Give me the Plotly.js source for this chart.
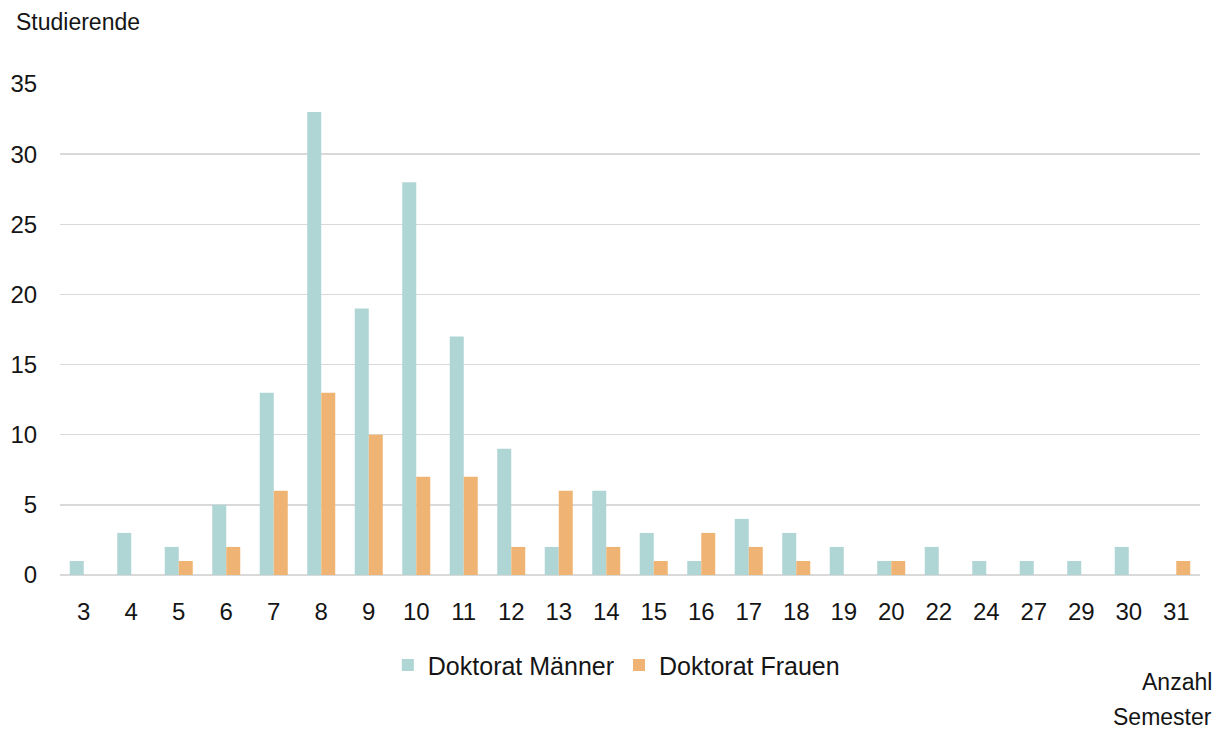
<!DOCTYPE html>
<html>
<head>
<meta charset="utf-8">
<script src="https://cdn.plot.ly/plotly-3.0.1.min.js"></script>
<style>html,body{margin:0;padding:0;background:#fff;}#chart{width:1221px;height:729px;}</style>
</head>
<body>
<div id="chart"></div>
<script>
const semester = ["3","4","5","6","7","8","9","10","11","12","13","14","15","16","17","18","19","20","22","24","27","29","30","31"];
const maenner = [1,3,2,5,13,33,19,28,17,9,2,6,3,1,4,3,2,1,2,1,1,1,2,0];
const frauen  = [0,0,1,2,6,13,10,7,7,2,6,2,1,3,2,1,0,1,0,0,0,0,0,1];
const yTicks = [0,5,10,15,20,25,30,35];

const font = "Liberation Sans, Arial, sans-serif";
const txt = "#151515";
const traces = [
  {type:"bar", name:"Doktorat Männer", x:semester, y:maenner, marker:{color:"#B0D5D5"}},
  {type:"bar", name:"Doktorat Frauen", x:semester, y:frauen, marker:{color:"#EFB474"}}
];
const layout = {
  width:1221, height:729,
  margin:{l:60, r:21, t:84, b:154},
  paper_bgcolor:"#fff", plot_bgcolor:"#fff",
  barmode:"group", bargap:0.41, bargroupgap:0,
  font:{family:font, color:txt},
  xaxis:{type:"category", tickfont:{size:24, color:txt}, showgrid:false, zeroline:false,
         showline:false, ticks:"outside", ticklen:15, tickcolor:"rgba(0,0,0,0)"},
  yaxis:{range:[0,35], tickvals:yTicks, tickfont:{size:24, color:txt}, showgrid:true,
         gridcolor:"#D9D9D9", gridwidth:1.5, zeroline:true, zerolinecolor:"#D9D9D9", zerolinewidth:1.5,
         showline:false, ticks:"outside", ticklen:17, tickcolor:"rgba(0,0,0,0)", fixedrange:true},
  showlegend:true,
  legend:{orientation:"h", x:0.488, xanchor:"center", y:-0.184, yanchor:"middle",
          font:{size:25, color:txt}, itemwidth:30, traceorder:"normal"},
  annotations:[
    {text:"Studierende", xref:"paper", yref:"paper", x:-0.04, xanchor:"left", y:1.127, yanchor:"middle",
     showarrow:false, font:{size:23, color:txt}},
    {text:"Anzahl", xref:"paper", yref:"paper", x:1.012, xanchor:"right", y:-0.218, yanchor:"middle",
     showarrow:false, font:{size:23, color:txt}},
    {text:"Semester", xref:"paper", yref:"paper", x:1.012, xanchor:"right", y:-0.29, yanchor:"middle",
     showarrow:false, font:{size:23, color:txt}}
  ]
};
Plotly.newPlot("chart", traces, layout, {displayModeBar:false, staticPlot:true});
</script>
</body>
</html>
